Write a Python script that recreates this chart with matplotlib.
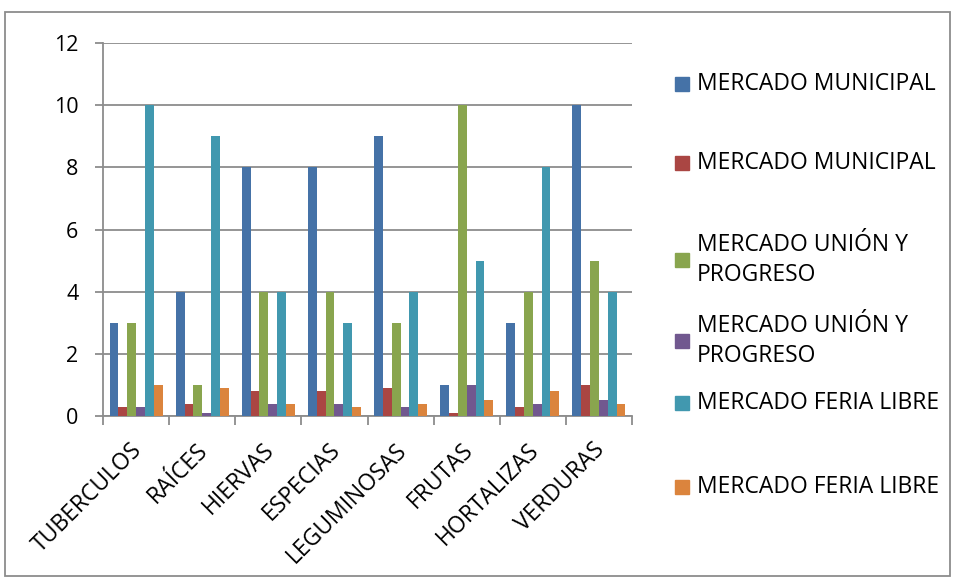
import matplotlib.pyplot as plt
import numpy as np
from matplotlib.patches import Rectangle

categorias = ["TUBERCULOS", "RAÍCES", "HIERVAS", "ESPECIAS", "LEGUMINOSAS",
              "FRUTAS", "HORTALIZAS", "VERDURAS"]
series = ["MERCADO MUNICIPAL", "MERCADO MUNICIPAL", "MERCADO UNIÓN Y\nPROGRESO",
          "MERCADO UNIÓN Y\nPROGRESO", "MERCADO FERIA LIBRE", "MERCADO FERIA LIBRE"]
municipal_a = [3, 4, 8, 8, 9, 1, 3, 10]
municipal_b = [0.3, 0.4, 0.8, 0.8, 0.9, 0.1, 0.3, 1.0]
union_a = [3, 1, 4, 4, 3, 10, 4, 5]
union_b = [0.3, 0.1, 0.4, 0.4, 0.3, 1.0, 0.4, 0.5]
feria_a = [10, 9, 4, 3, 4, 5, 8, 4]
feria_b = [1.0, 0.9, 0.4, 0.3, 0.4, 0.5, 0.8, 0.4]
valores = [municipal_a, municipal_b, union_a, union_b, feria_a, feria_b]
colores = ["#4572A7", "#AA4643", "#89A54E", "#71588F", "#4198AF", "#DB843D"]

plt.rcParams["font.family"] = ["Open Sans", "DejaVu Sans"]
gris = "#8c8c8c"

fig = plt.figure(figsize=(9.55, 5.82), dpi=100)
ax = fig.add_axes([103 / 955, 1 - 416 / 582, (632 - 103) / 955, (416 - 43) / 582])

n = len(categorias)
x = np.arange(n)
w = 1 / 7.5
for i, (vals, c) in enumerate(zip(valores, colores)):
    ax.bar(x - 2.5 * w + i * w, vals, width=w, color=c, zorder=3)

ax.set_xlim(-0.5, n - 0.5)
ax.set_ylim(0, 12)
ax.set_yticks(range(0, 13, 2))
ax.grid(axis="y", color=gris, linewidth=1.3, zorder=0)
ax.tick_params(axis="y", length=5.8, width=1.3, color=gris, labelsize=15.5, pad=12)
ax.set_xticks(np.arange(-0.5, n, 1))
ax.set_xticklabels([])
ax.tick_params(axis="x", length=6.5, width=1.3, color=gris)
for s in ["top", "right"]:
    ax.spines[s].set_visible(False)
for s in ["left", "bottom"]:
    ax.spines[s].set_color(gris)
    ax.spines[s].set_linewidth(1.3)

for xi, nombre in zip(x, categorias):
    ax.text(xi - 0.09, -0.72, nombre, rotation=45, ha="right", va="top",
            rotation_mode="anchor", fontsize=16.5)

# leyenda a la derecha
ys = [84, 163, 260, 341, 403, 487]
for yy, etiqueta, c in zip(ys, series, colores):
    fig.patches.append(Rectangle((675 / 955, 1 - (yy + 7) / 582), 14 / 955, 14 / 582,
                                 transform=fig.transFigure, color=c))
    fig.text(697 / 955, 1 - yy / 582, etiqueta, fontsize=16.5, va="center",
             ha="left", linespacing=1.3)

fig.patches.append(Rectangle((5 / 955, 1 - 576 / 582), 945 / 955, 564 / 582,
                             transform=fig.transFigure, fill=False,
                             edgecolor=gris, linewidth=1.3))

fig.savefig("out.png", dpi=100)
